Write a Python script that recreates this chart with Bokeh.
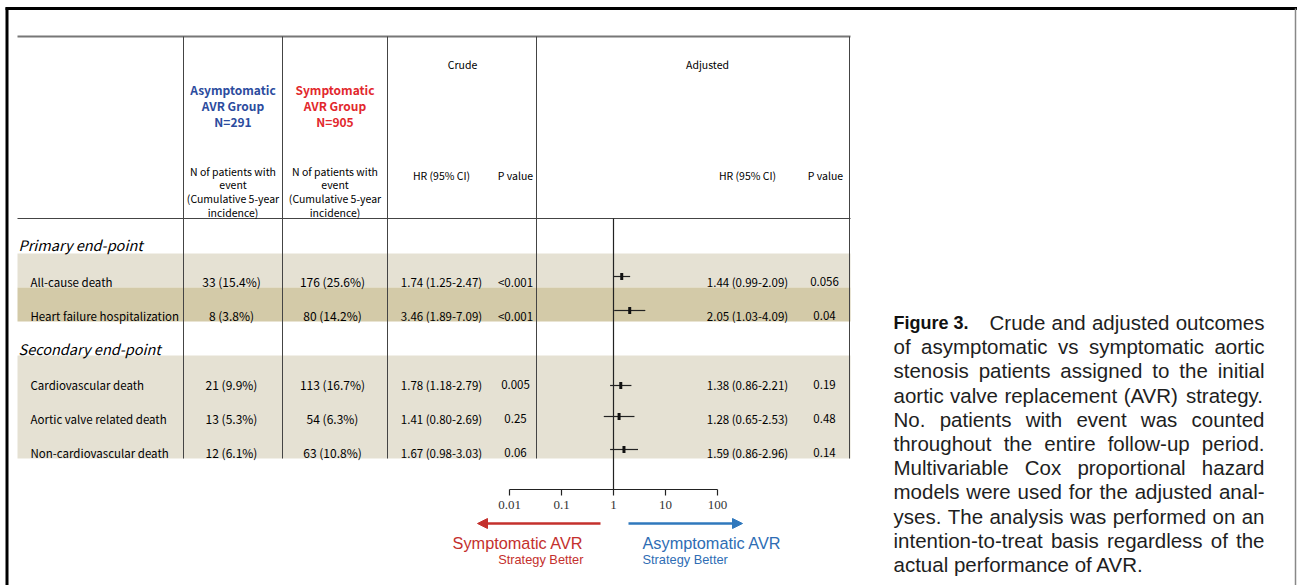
from bokeh.plotting import figure
from bokeh.models import Range1d, LogScale, Arrow, NormalHead, ColumnDataSource
from bokeh.core.properties import value
from bokeh.embed import file_html
from bokeh.resources import INLINE

# ---------------- data ----------------
endpoints = ["All-cause death", "Heart failure hospitalization", "Cardiovascular death",
             "Aortic valve related death", "Non-cardiovascular death"]
sections = ["Primary end-point", "Secondary end-point"]
asym_n = [33, 8, 21, 13, 12]
asym_pct = [15.4, 3.8, 9.9, 5.3, 6.1]
sym_n = [176, 80, 113, 54, 63]
sym_pct = [25.6, 14.2, 16.7, 6.3, 10.8]
crude_hr = [1.74, 3.46, 1.78, 1.41, 1.67]
crude_lo = [1.25, 1.89, 1.18, 0.80, 0.98]
crude_hi = [2.47, 7.09, 2.79, 2.69, 3.03]
crude_p = ["<0.001", "<0.001", "0.005", "0.25", "0.06"]
adj_hr = [1.44, 2.05, 1.38, 1.28, 1.59]
adj_lo = [0.99, 1.03, 0.86, 0.65, 0.86]
adj_hi = [2.09, 4.09, 2.21, 2.53, 2.96]
adj_p = ["0.056", "0.04", "0.19", "0.48", "0.14"]
tick_values = [0.01, 0.1, 1, 10, 100]
tick_labels = ["0.01", "0.1", "1", "10", "100"]
group_asym = ["Asymptomatic", "AVR Group", "N=291"]
group_sym = ["Symptomatic", "AVR Group", "N=905"]
sub_header = ["N of patients with", "event", "(Cumulative 5-year", "incidence)"]
caption_title = "Figure 3."
caption_lines = [
    "Crude and adjusted outcomes",
    "of asymptomatic vs symptomatic aortic",
    "stenosis patients assigned to the initial",
    "aortic valve replacement (AVR) strategy.",
    "No. patients with event was counted",
    "throughout the entire follow-up period.",
    "Multivariable Cox proportional hazard",
    "models were used for the adjusted anal-",
    "yses. The analysis was performed on an",
    "intention-to-treat basis regardless of the",
    "actual performance of AVR.",
]

# ---------------- layout (page pixels; Bokeh's page has no body margin) ----------------
W, H = 1297, 585
X0, Y0 = 0, 0
TFONT = "Noto Sans CJK JP"
X_ONE, DEC = 613, 52          # pixel of HR=1, pixels per decade
row_y = [281, 315, 384, 418, 452]
mark_y = [276, 310, 385, 416, 449]
section_y = [244, 348]
LIGHT, DARK = "#e5e1d3", "#d3caa8"
RED, BLUE = "#c4302d", "#2f78bd"
INK = "#000000"

p = figure(width=W, height=H, x_range=Range1d(X0, X0 + W), y_range=Range1d(Y0 + H, Y0),
           output_backend="svg", toolbar_location=None, min_border=0,
           x_axis_location=None, y_axis_location=None)
p.outline_line_color = None
p.background_fill_color = "white"
p.border_fill_color = "white"
p.xgrid.grid_line_color = None
p.ygrid.grid_line_color = None
p.extra_x_ranges = {"hr": Range1d(10 ** ((X0 - X_ONE) / DEC), 10 ** ((X0 + W - X_ONE) / DEC))}
p.extra_x_scales = {"hr": LogScale()}


def txt(xs, ys, texts, size, color=INK, align="center", font=TFONT, style="normal",
        baseline="middle", **kw):
    p.text(x=xs, y=ys, text=texts, text_font=value(font), text_font_size=value(size),
           text_color=color, text_align=align, text_baseline=baseline,
           text_font_style=style, **kw)


# bands
p.quad(left=[17, 17, 17], right=[850, 850, 850], top=[253, 287, 355], bottom=[287, 321, 458],
       fill_color=[LIGHT, DARK, LIGHT], line_color=None)

# outer frame
p.segment(x0=[5], x1=[1297], y0=[8], y1=[8], line_color="black", line_width=3)
p.segment(x0=[6.5], x1=[6.5], y0=[7], y1=[585], line_color="black", line_width=3)
p.segment(x0=[1295], x1=[1295], y0=[8], y1=[585], line_color="#888888", line_width=1.5)

# table rules
p.segment(x0=[17], x1=[850], y0=[36], y1=[36], line_color="#777777", line_width=2)
p.segment(x0=[17], x1=[850], y0=[218], y1=[218], line_color="#444444", line_width=1.2)
cols = [183, 282, 387, 536, 849]
p.segment(x0=cols, x1=cols, y0=[36] * 5, y1=[458] * 5, line_color="#444444", line_width=1)

# headers
txt([232.5] * 3, [89, 105, 121], group_asym, "12px", color="#2c4c9e", style="bold")
txt([334.5] * 3, [89, 105, 121], group_sym, "12px", color="#e2282d", style="bold")
txt([232.5] * 4, [171, 184, 198, 212], sub_header, "10.5px")
txt([334.5] * 4, [171, 184, 198, 212], sub_header, "10.5px")
txt([462, 707], [64, 64], ["Crude", "Adjusted"], "10.5px")
txt([441, 515, 747, 825], [175] * 4, ["HR (95% CI)", "P value", "HR (95% CI)", "P value"], "10.5px")

# sections and rows
txt([18, 18], section_y, sections, "14.5px", align="left", style="italic")
txt([30] * 5, row_y, endpoints, "11.5px", align="left")
txt([231] * 5, row_y, [f"{n} ({v:.1f}%)" for n, v in zip(asym_n, asym_pct)], "12px")
txt([332] * 5, row_y, [f"{n} ({v:.1f}%)" for n, v in zip(sym_n, sym_pct)], "12px")
txt([441] * 5, row_y, [f"{h:.2f} ({l:.2f}-{u:.2f})" for h, l, u in zip(crude_hr, crude_lo, crude_hi)], "11.5px")
txt([515] * 5, row_y, crude_p, "11.5px")
txt([747] * 5, row_y, [f"{h:.2f} ({l:.2f}-{u:.2f})" for h, l, u in zip(adj_hr, adj_lo, adj_hi)], "11.5px")
txt([824] * 5, row_y, adj_p, "11.5px")

# forest plot on log scale
src = ColumnDataSource(dict(hr=adj_hr, lo=adj_lo, hi=adj_hi, y=mark_y))
p.segment(x0=[1], x1=[1], y0=[218], y1=[489], x_range_name="hr", line_color="#222222", line_width=1.2)
p.segment(x0="lo", x1="hi", y0="y", y1="y", source=src, x_range_name="hr",
          line_color="#222222", line_width=1.2)
p.rect(x="hr", y="y", width=3, height=7, width_units="screen", height_units="screen",
       source=src, x_range_name="hr", fill_color="#111111", line_color=None)
p.segment(x0=[tick_values[0]], x1=[tick_values[-1]], y0=[489], y1=[489], x_range_name="hr",
          line_color="#222222", line_width=1.2)
p.segment(x0=tick_values, x1=tick_values, y0=[489] * 5, y1=[495] * 5, x_range_name="hr",
          line_color="#222222", line_width=1.2)
txt(tick_values, [504] * 5, tick_labels, "13px", color="#333333", font="Liberation Serif",
    x_range_name="hr")

# direction arrows
p.add_layout(Arrow(end=NormalHead(size=10, fill_color=RED, line_color=RED),
                   x_start=600, y_start=523, x_end=477, y_end=523, line_color=RED, line_width=2.5))
p.add_layout(Arrow(end=NormalHead(size=10, fill_color=BLUE, line_color=BLUE),
                   x_start=628, y_start=523, x_end=742, y_end=523, line_color=BLUE, line_width=2.5))
txt([583], [542], ["Symptomatic AVR"], "16.3px", color=RED, align="right", font="Liberation Sans")
txt([583], [559], ["Strategy Better"], "12.8px", color=RED, align="right", font="Liberation Sans")
txt([642], [542], ["Asymptomatic AVR"], "16.3px", color="#2e6db4", align="left", font="Liberation Sans")
txt([642], [559], ["Strategy Better"], "12.8px", color="#2e6db4", align="left", font="Liberation Sans")

# caption (justified with Arial/Liberation Sans advance widths)
AW = dict(zip("abcdefghijklmnopqrstuvwxyz",
              [556, 556, 500, 556, 556, 278, 556, 556, 222, 222, 500, 222, 833, 556, 556, 556, 556,
               333, 500, 278, 556, 500, 722, 500, 500, 500]))
AW.update(dict(zip("ABCDEFGHIJKLMNOPQRSTUVWXYZ",
                   [667, 667, 722, 722, 667, 611, 778, 722, 278, 500, 667, 556, 833, 722, 778, 667,
                    778, 722, 667, 611, 722, 667, 944, 667, 667, 611])))
AW.update({" ": 278, ".": 278, "-": 333, "(": 333, ")": 333})
CAP = 20.5


def width(s, size):
    return sum(AW.get(c, 556) for c in s) * size / 1000


cx, cy, ct = [], [], []
for i, line in enumerate(caption_lines):
    base = 322 + 24.2 * i
    left = 989 if i == 0 else 893
    right = 1264
    words = line.split()
    if i == len(caption_lines) - 1:
        cx.append(left); cy.append(base); ct.append(line)
        continue
    total = sum(width(w, CAP) for w in words)
    gap = (right - left - total) / (len(words) - 1)
    x = left
    for w in words:
        cx.append(x); cy.append(base); ct.append(w)
        x += width(w, CAP) + gap
txt(cx, cy, ct, f"{CAP}px", color="#1e1e1e", align="left", font="Liberation Sans", baseline="alphabetic")
txt([893], [322], [caption_title], "18px", color="#111111", align="left", font="Liberation Sans",
    style="bold", baseline="alphabetic")

open("out.html", "w").write(file_html(p, INLINE))
